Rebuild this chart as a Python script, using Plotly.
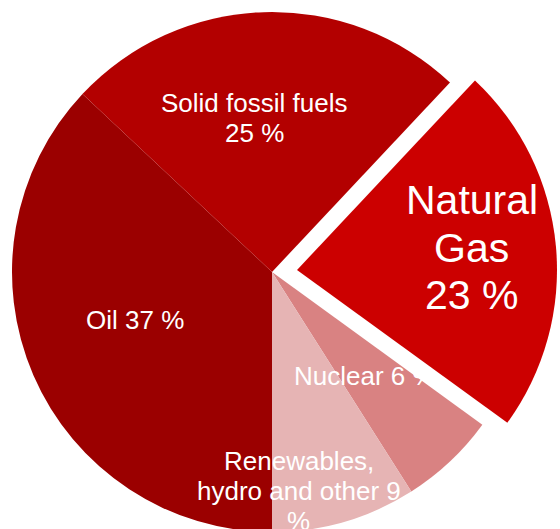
import plotly.graph_objects as go

# ---- data ----
labels = ["Oil", "Solid fossil fuels", "Natural Gas", "Nuclear", "Renewables, hydro and other"]
values = [37, 25, 23, 6, 9]
colors = ["#9B0000", "#B30000", "#CC0000", "#D98282", "#E6B4B4"]
pulled = "Natural Gas"

# ---- layout / style config ----
W, H = 560, 536
R = 260                 # pie radius (px)
CX, CY = 272, 272       # pie centre (px)
PULL_PX = (25, -2)      # offset of pulled slice (px)

# words per line for each label, label anchor (centre x, first baseline y), font size, line spacing
wrap = [[3], [3, 2], [1, 1, 2], [3], [1, 4, 1]]
anchor = [(134.5, 329), (254, 112), (471.5, 215), (364.5, 385), (298.5, 470)]
fsize = [26, 26, 41, 26, 26]
lspace = [30, 30, 47.5, 30, 30]

FONT = "Liberation Sans, Arial, sans-serif"
TRANSP = "rgba(0,0,0,0)"


def dom(cx, cy, r):
    return dict(x=[max(0, (cx - r) / W), min(1, (cx + r) / W)],
                y=[max(0, (H - cy - r) / H), min(1, (H - cy + r) / H)])


base_colors = [TRANSP if l == pulled else c for l, c in zip(labels, colors)]
pull_colors = [c if l == pulled else TRANSP for l, c in zip(labels, colors)]

common = dict(labels=labels, values=values, sort=False, direction="clockwise",
              rotation=180, textinfo="none", hoverinfo="label+percent",
              showlegend=False)

fig = go.Figure()
fig.add_trace(go.Pie(**common, marker=dict(colors=base_colors, line=dict(width=0)),
                     domain=dom(CX, CY, R)))
fig.add_trace(go.Pie(**common, marker=dict(colors=pull_colors, line=dict(width=0)),
                     domain=dom(CX + PULL_PX[0], CY + PULL_PX[1], R)))

annotations = []
for lab, val, wr, (ax, ay), fs, ls in zip(labels, values, wrap, anchor, fsize, lspace):
    words = f"{lab} {val} %".split()
    lines, i = [], 0
    for n in wr:
        lines.append(" ".join(words[i:i + n]))
        i += n
    for k, line in enumerate(lines):
        base = ay + k * ls
        mid = base - 0.36 * fs
        annotations.append(dict(text=line, x=ax / W, y=1 - mid / H,
                                xref="paper", yref="paper",
                                xanchor="center", yanchor="middle", showarrow=False,
                                font=dict(family=FONT, size=fs, color="white")))

fig.update_layout(width=W, height=H, margin=dict(l=0, r=0, t=0, b=0),
                  paper_bgcolor="white", plot_bgcolor="white",
                  annotations=annotations, font=dict(family=FONT))

fig.write_html("out.html", config={"displayModeBar": False},
               post_script="document.body.style.margin='0';"
                           "document.documentElement.style.overflow='hidden';")
